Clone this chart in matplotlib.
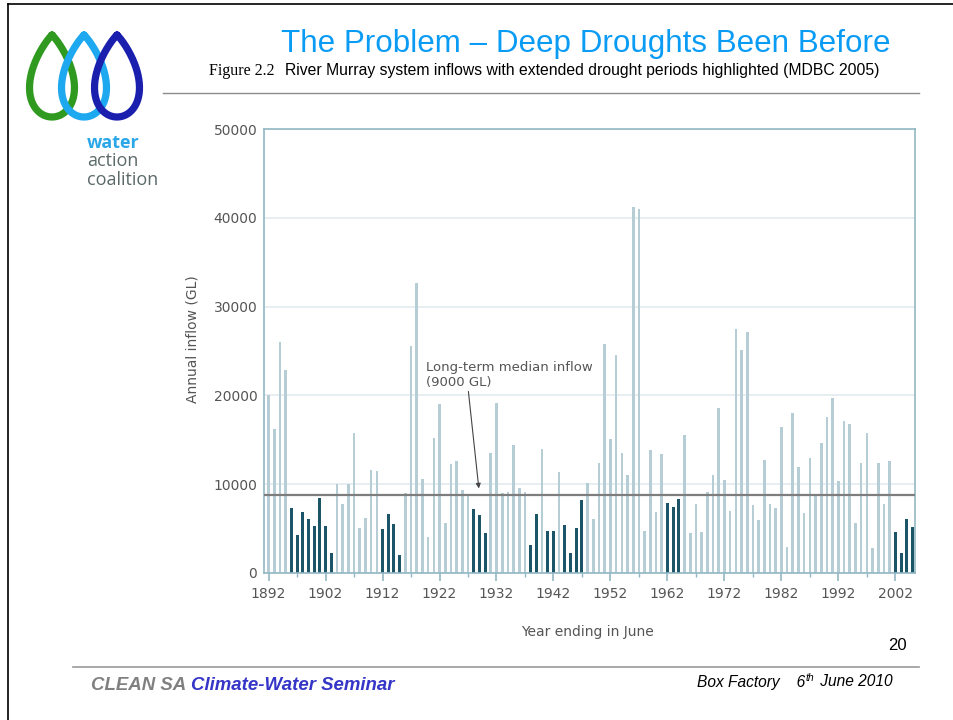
import numpy as np
import matplotlib.pyplot as plt

# River Murray system inflows (GL), year ending in June
years = list(range(1892, 2006))
inflow = [
    20000, 16200, 26000, 22900, 7300, 4250, 6850, 6000, 5300, 8450,
    5250, 2200, 9950, 7800, 10050, 15700, 5000, 6150, 11600, 11450,
    4900, 6650, 5500, 2050, 8950, 25550, 32700, 10600, 4000, 15150,
    19050, 5550, 12250, 12550, 9300, 8750, 7200, 6550, 4450, 13550,
    19100, 8950, 9050, 14400, 9600, 9050, 3100, 6600, 14000, 4700,
    4700, 11300, 5350, 2250, 5050, 8250, 10100, 6050, 12400, 25800,
    15050, 24550, 13450, 11000, 41200, 41000, 4700, 13800, 6850, 13400,
    7900, 7450, 8300, 15500, 4450, 7750, 4600, 9100, 11000, 18600,
    10450, 6900, 27450, 25100, 27150, 7650, 5950, 12700, 7800, 7350,
    16450, 2900, 17950, 11900, 6700, 12900, 8750, 14650, 17500, 19650,
    10350, 17050, 16750, 5650, 12400, 15700, 2750, 12350, 7800, 12550,
    4550, 2200, 6000, 5200,
]
drought_years = (list(range(1896, 1904)) + list(range(1912, 1916)) +
                 [1928, 1929, 1930, 1938, 1939, 1941, 1942, 1944, 1945, 1946, 1947,
                  1962, 1963, 1964] + list(range(2002, 2006)))
median_inflow = 8750
xticks = list(range(1892, 2003, 10))
yticks = [0, 10000, 20000, 30000, 40000, 50000]

light_col = '#b7cdd6'
dark_col = '#1c5468'
spine_col = '#93b7c4'
grid_col = '#e2ebef'
text_col = '#555555'

fig = plt.figure(figsize=(9.54, 7.2), dpi=100)

# page overlay in pixel coordinates
ov = fig.add_axes([0, 0, 1, 1], zorder=0)
ov.set_xlim(0, 954)
ov.set_ylim(720, 0)
ov.axis('off')

# slide border
ov.plot([8, 8], [4, 720], color='black', lw=1.2)
ov.plot([8, 954], [4, 4], color='black', lw=1.2)

# logo: three interlocking drops
t = np.linspace(0, 2 * np.pi, 200)
for cx, col in [(52, '#2f9a1f'), (84, '#1ea8f0'), (117, '#1b1fae')]:
    dx = 28 * np.sin(t) * np.sin(t / 2) ** 0.8
    dy = -41 * np.cos(t)
    ov.plot(cx + dx, 76 + dy, color=col, lw=5.2, solid_capstyle='round')
ov.text(87, 143, 'water', color='#2aa7e8', fontsize=13, fontweight='bold',
        family='Open Sans', va='center')
ov.text(87, 161, 'action', color='#5b6969', fontsize=13, family='Open Sans', va='center')
ov.text(87, 180, 'coalition', color='#5b6969', fontsize=13, family='Open Sans', va='center')

# header
ov.text(586, 44, 'The Problem \u2013 Deep Droughts Been Before', color='#0a9cf5',
        fontsize=22.6, family='Liberation Sans', ha='center', va='center')
ov.text(209, 71, 'Figure 2.2', fontsize=11.5, family='Liberation Serif', va='center')
ov.text(285, 71, 'River Murray system inflows with extended drought periods highlighted (MDBC 2005)',
        fontsize=11.3, family='Liberation Sans', va='center')
ov.plot([163, 919], [93, 93], color='#8a8a8a', lw=1)

# footer
ov.text(897, 646, '20', fontsize=12, family='Liberation Sans', ha='center', va='center')
ov.plot([73, 919], [667, 667], color='#999999', lw=1.2)
t1 = ov.text(91, 685, 'CLEAN SA ', color='#808080', fontsize=13.4, family='Liberation Sans',
             fontweight='bold', style='italic', va='center')
ov.annotate('Climate-Water Seminar', xy=(1, 0.5), xycoords=t1, va='center',
            color='#3535c8', fontsize=13.4, family='Liberation Sans', fontweight='bold', style='italic')
f1 = ov.text(697, 682, 'Box Factory    6', fontsize=11.2, family='Liberation Sans',
             style='italic', va='center')
ov.annotate('th', xy=(1, 0.75), xycoords=f1, va='center', fontsize=7.5,
            family='Liberation Sans', style='italic')
ov.annotate(' June 2010', xy=(1, 0.5), xycoords=f1, xytext=(8, 0), textcoords='offset points',
            va='center', fontsize=11.2, family='Liberation Sans', style='italic')

# chart
ax = fig.add_axes([264.3 / 954, (720 - 572.7) / 720, 651 / 954, 443.5 / 720], zorder=1)
ax.set_facecolor('none')
colors = [dark_col if y in drought_years else light_col for y in years]
widths = [0.52 if y in drought_years else 0.46 for y in years]
ax.bar(years, inflow, width=widths, color=colors, zorder=2)
ax.axhline(median_inflow, color='#7d7d7d', lw=1.6, zorder=3)

ax.set_xlim(1891.25, 2005.5)
ax.set_ylim(0, 50000)
ax.set_yticks(yticks)
ax.set_xticks(xticks)
ax.set_xticks([x + 5 for x in xticks[:-1]], minor=True)
ax.grid(axis='y', color=grid_col, lw=1.2, zorder=0)
for s in ax.spines.values():
    s.set_color(spine_col)
    s.set_linewidth(1.2)
ax.tick_params(axis='y', length=0, pad=5, labelsize=10, labelcolor=text_col)
ax.tick_params(axis='x', which='major', length=6, width=1.2, color=spine_col, pad=4,
               labelsize=10, labelcolor=text_col)
ax.tick_params(axis='x', which='minor', length=3, width=1, color=spine_col)

ax.set_ylabel('Annual inflow (GL)', fontsize=10, color=text_col)
ax.yaxis.set_label_coords(-0.1, 0.527)
ax.set_xlabel('Year ending in June', fontsize=10, color=text_col)
ax.xaxis.set_label_coords(0.497, -0.118)

ax.annotate('Long-term median inflow\n(9000 GL)', xy=(1928.9, 9500), xytext=(1919.7, 22300),
            fontsize=9.5, color=text_col, va='center', ha='left', linespacing=1.15,
            arrowprops=dict(arrowstyle='-|>', color='#444444', lw=0.8,
                            mutation_scale=7, shrinkA=0, shrinkB=0,
                            relpos=(0.25, 0.0)))

fig.savefig('out.png', dpi=100)
